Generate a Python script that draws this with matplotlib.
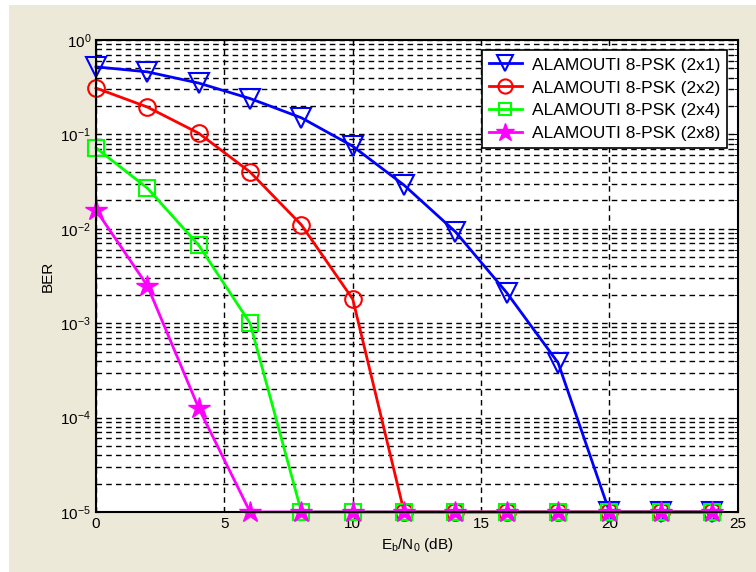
import matplotlib.pyplot as plt
from matplotlib.patches import Rectangle
import numpy as np

plt.rcParams['font.family'] = ['Liberation Sans', 'DejaVu Sans']

# Eb/N0 values (dB)
snr = [0, 2, 4, 6, 8, 10, 12, 14, 16, 18, 20, 22, 24]

# BER curves
ber_2x1 = [0.52, 0.46, 0.35, 0.24, 0.15, 0.075, 0.029, 0.0093, 0.0021, 3.8e-4, 1e-5, 1e-5, 1e-5]
ber_2x2 = [0.31, 0.195, 0.103, 0.040, 0.011, 0.0018, 1e-5, 1e-5, 1e-5, 1e-5, 1e-5, 1e-5, 1e-5]
ber_2x4 = [0.072, 0.027, 0.0067, 0.001, 1e-5, 1e-5, 1e-5, 1e-5, 1e-5, 1e-5, 1e-5, 1e-5, 1e-5]
ber_2x8 = [0.0158, 0.0025, 1.26e-4, 1e-5, 1e-5, 1e-5, 1e-5, 1e-5, 1e-5, 1e-5, 1e-5, 1e-5, 1e-5]

labels = ['ALAMOUTI 8-PSK (2x1)', 'ALAMOUTI 8-PSK (2x2)',
          'ALAMOUTI 8-PSK (2x4)', 'ALAMOUTI 8-PSK (2x8)']

fig = plt.figure(figsize=(7.56, 5.72), dpi=100, facecolor='white')
# grey MATLAB-style window background
fig.patches.append(Rectangle((9 / 756, 0), 1, 1 - 5 / 572, transform=fig.transFigure,
                             facecolor='#ECE9D8', edgecolor='none', zorder=-10))
ax = fig.add_axes([0.127, 0.105, 0.849, 0.825])

ax.semilogy(snr, ber_2x1, color='blue', lw=2, marker='v', ms=14, mfc='none', mew=1.5,
            label=labels[0], clip_on=False)
ax.semilogy(snr, ber_2x2, color='red', lw=2, marker='o', ms=12, mfc='none', mew=1.5,
            label=labels[1], clip_on=False)
ax.semilogy(snr, ber_2x4, color='#00FF00', lw=2, marker='s', ms=11, mfc='none', mew=1.5,
            label=labels[2], clip_on=False)
ax.semilogy(snr, ber_2x8, color='magenta', lw=2, marker='*', ms=16, mfc='magenta', mew=1,
            label=labels[3], clip_on=False)

ax.set_xlim(0, 25)
ax.set_ylim(1e-5, 1)
ax.set_xticks([0, 5, 10, 15, 20, 25])
ax.set_yticks([1e-5, 1e-4, 1e-3, 1e-2, 1e-1, 1])
ax.grid(True, which='both', axis='y', color='black', linestyle=(0, (4, 3)), linewidth=1)
ax.grid(True, which='major', axis='x', color='black', linestyle=(0, (4, 3)), linewidth=1)
ax.tick_params(which='both', direction='in', labelsize=11, top=True, right=True)
ax.tick_params(which='minor', length=3)
for s in ax.spines.values():
    s.set_linewidth(1.5)

ax.set_xlabel(r'E$_\mathregular{b}$/N$_\mathregular{0}$ (dB)', fontsize=11)
ax.set_ylabel('BER', fontsize=11)

leg = ax.legend(loc='upper right', fontsize=12.5, fancybox=False, framealpha=1,
                edgecolor='black', borderaxespad=0.6, handlelength=1.9, handletextpad=0.6,
                labelspacing=0.45, markerscale=0.85)
leg.get_frame().set_linewidth(1.2)

plt.savefig('out.png', dpi=100, facecolor=fig.get_facecolor())
